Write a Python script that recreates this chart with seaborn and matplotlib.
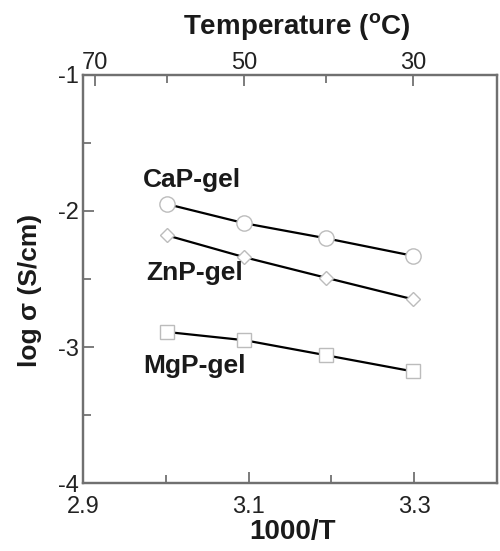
import numpy as np
import pandas as pd
import matplotlib
matplotlib.use("Agg")
import matplotlib.pyplot as plt
import seaborn as sns
from matplotlib.ticker import FixedLocator, NullFormatter

sns.set_theme(style="white")
plt.rcParams['font.family'] = ['Liberation Sans', 'DejaVu Sans']
plt.rcParams['axes.unicode_minus'] = False

# data
inv_T = [3.002, 3.095, 3.193, 3.299]
cap_gel = [-1.95, -2.09, -2.20, -2.33]
znp_gel = [-2.18, -2.34, -2.49, -2.65]
mgp_gel = [-2.89, -2.95, -3.06, -3.18]
series_names = ["CaP-gel", "ZnP-gel", "MgP-gel"]
x_ticks = [2.9, 3.1, 3.3]
x_tick_labels = ["2.9", "3.1", "3.3"]
y_ticks = [-4, -3, -2, -1]
y_tick_labels = ["-4", "-3", "-2", "-1"]
temp_major = [70, 50, 30]
temp_minor = [60, 40]

fig = plt.figure(figsize=(5.0, 5.51), dpi=100)
ax = fig.add_axes([0.166, 0.1234, 0.828, 0.7405])

specs = [(cap_gel, "o", 11), (znp_gel, "D", 7), (mgp_gel, "s", 10)]
for vals, mk, ms in specs:
    sns.lineplot(x=inv_T, y=vals, ax=ax, color="black", linewidth=1.6,
                 marker=mk, markersize=ms, markerfacecolor="white",
                 markeredgecolor="#bcbcbc", markeredgewidth=1.0)

ax.set_xlim(2.9, 3.4)
ax.set_ylim(-4, -1)
ax.set_xticks(x_ticks)
ax.set_xticklabels(x_tick_labels)
ax.xaxis.set_minor_locator(FixedLocator([3.0, 3.2]))
ax.set_yticks(y_ticks)
ax.set_yticklabels(y_tick_labels)
ax.yaxis.set_minor_locator(FixedLocator([-3.5, -2.5, -1.5]))
ax.tick_params(axis='both', which='both', direction='in', labelsize=17,
               color='#666666', width=1.2, left=True, bottom=True,
               right=False, top=False, labelcolor='#222222')
ax.tick_params(axis='both', which='major', length=8)
ax.tick_params(axis='both', which='minor', length=6)
ax.tick_params(axis='x', pad=9)
ax.tick_params(axis='y', pad=3)
for s in ax.spines.values():
    s.set_color('#707070')
    s.set_linewidth(1.6)
    s.set_visible(True)

ax.set_xlabel("1000/T", fontsize=20, fontweight='bold', color='#1a1a1a')
ax.xaxis.set_label_coords(0.507, -0.089)
ax.set_ylabel(r"log σ (S/cm)", fontsize=19, fontweight='bold', color='#1a1a1a')
ax.yaxis.set_label_coords(-0.10, 0.473)

# top temperature axis
ax2 = ax.twiny()
ax2.set_xlim(ax.get_xlim())
ax2.set_xticks([1000.0 / (t + 273.15) for t in temp_major])
ax2.set_xticklabels([str(t) for t in temp_major])
ax2.xaxis.set_minor_locator(FixedLocator([1000.0 / (t + 273.15) for t in temp_minor]))
ax2.xaxis.set_minor_formatter(NullFormatter())
ax2.tick_params(axis='x', which='both', direction='in', labelsize=17,
                color='#666666', width=1.2, pad=1, top=True, labelcolor='#222222')
ax2.tick_params(axis='x', which='major', length=8)
ax2.tick_params(axis='x', which='minor', length=6)
ax2.set_xlabel(r"Temperature ($\mathregular{^o}$C)", fontsize=20, fontweight='bold',
               color='#1a1a1a')
ax2.xaxis.set_label_coords(0.517, 1.10)
for s in ax2.spines.values():
    s.set_color('#707070')
    s.set_linewidth(1.6)

# series labels
label_pos = [(3.032, -1.824), (3.035, -2.507), (3.035, -3.191)]
for name, (lx, ly) in zip(series_names, label_pos):
    ax.text(lx, ly, name, fontsize=19, fontweight='bold', ha='center', va='baseline',
            color='#1a1a1a')

fig.savefig("out.png", dpi=100)
